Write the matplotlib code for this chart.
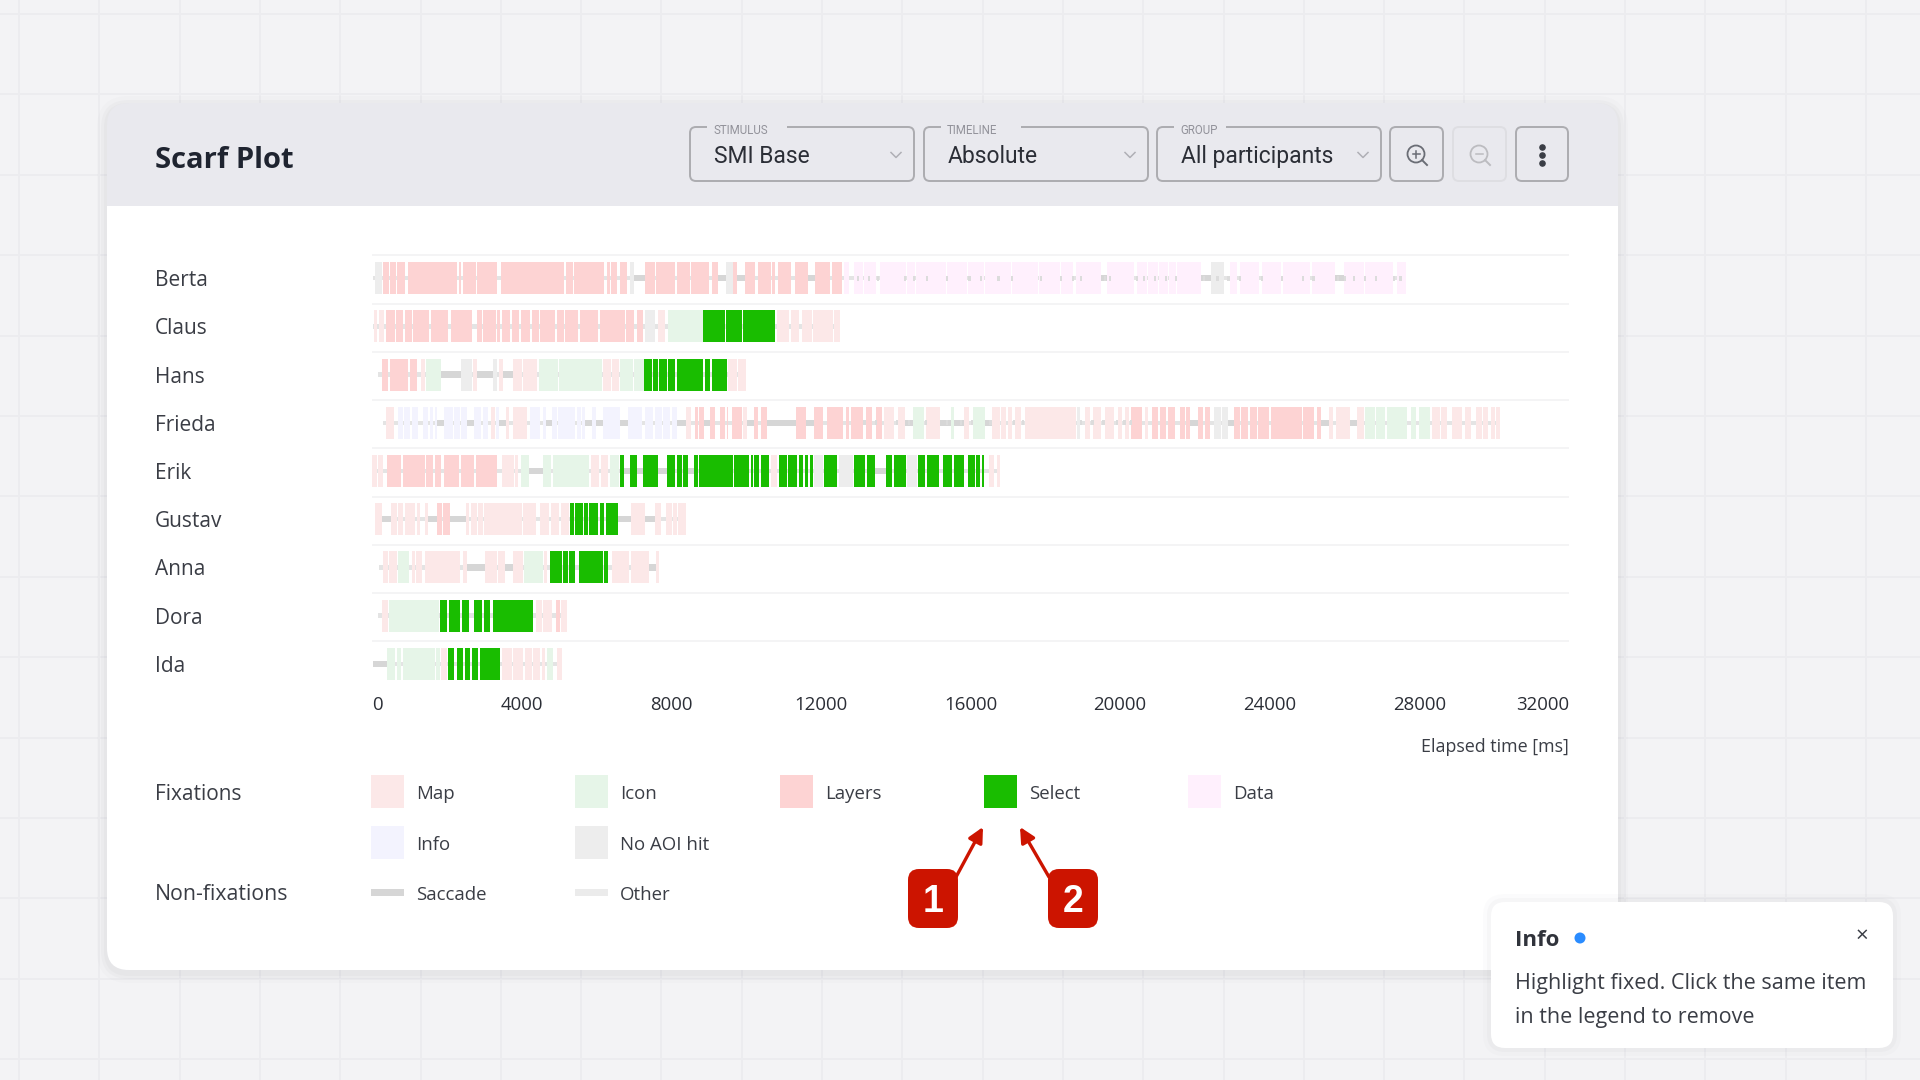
import matplotlib
matplotlib.use("Agg")
import matplotlib.pyplot as plt
from matplotlib.patches import FancyBboxPatch, Rectangle, Circle

plt.rcParams["font.family"] = ["Open Sans", "DejaVu Sans"]

participants = ["Berta", "Claus", "Hans", "Frieda", "Erik", "Gustav", "Anna", "Dora", "Ida"]
row_start = [30, 20, 150, 300, 0, 80, 200, 150, 30]
x_ticks = [0, 4000, 8000, 12000, 16000, 20000, 24000, 28000, 32000]

aoi_colors = {"Map": "#fce8e8", "Icon": "#e6f5e8", "Layers": "#fdd3d3", "Select": "#19bd00",
              "Data": "#fff0fd", "Info": "#f3f3fe", "No AOI hit": "#ededed"}
saccade_color = "#d6d6d6"
other_color = "#ebebeb"

# fixation cells per participant in ms: (aoi, [(start, end), ...])
berta = [
    ("No AOI hit", [(80, 258), (6899, 7006), (9466, 9644), (22429, 22787)]),
    ("Layers", [(285, 463), (481, 642), (677, 873), (954, 2282), (2317, 2380), (2424, 2781), (2816, 3351),
                (3458, 5134), (5187, 5366), (5401, 6212), (6275, 6364), (6382, 6542), (6631, 6810),
                (7300, 7567), (7594, 8102), (8147, 8503), (8521, 9020), (9083, 9261), (9662, 9769),
                (9974, 10241), (10330, 10660), (10687, 10776), (10865, 11195), (11311, 11667),
                (11845, 12247), (12291, 12559)]),
    ("Data", [(12621, 12764), (12877, 13139), (13163, 13474), (13569, 14273), (14309, 14512), (14548, 15348),
              (15384, 15909), (15945, 16363), (16387, 17079), (17103, 17796), (17820, 18393), (18417, 18751),
              (18811, 19491), (19647, 20363), (20446, 20721), (20757, 21020), (21043, 21282), (21318, 21497),
              (21521, 22154), (22930, 23121), (23193, 23706), (23790, 24303), (24363, 25079), (25139, 25736),
              (25975, 26512), (26536, 26990), (27013, 27288), (27408, 27646)]),
]
claus = [
    ("Map", [(53, 143), (196, 321), (7656, 7834), (10820, 11159), (11195, 11426), (11489, 11756),
             (11783, 12318), (12353, 12514)]),
    ("Layers", [(374, 606), (642, 838), (882, 1061), (1105, 1533), (1569, 2041), (2103, 2264), (2282, 2674),
                (2816, 2941), (2977, 3316), (3351, 3423), (3467, 3690), (3734, 3940), (3975, 4225),
                (4269, 4457), (4492, 4893), (4938, 5134), (5161, 5517), (5562, 6052), (6096, 6765),
                (6792, 7006), (7077, 7255)]),
    ("No AOI hit", [(7300, 7567)]),
    ("Icon", [(7923, 8842)]),
    ("Select", [(8842, 9439), (9474, 9902), (9929, 10776)]),
]
hans = [
    ("Layers", [(258, 436), (481, 971), (1016, 1212)]),
    ("Map", [(1301, 1417), (2692, 2799), (3405, 3512), (3761, 4002), (4047, 4403), (6168, 6382), (6408, 6613),
             (9528, 9751), (9795, 9991)]),
    ("Icon", [(1444, 1845), (4474, 4982), (5009, 6141), (6631, 6988), (7006, 7273)]),
    ("No AOI hit", [(2371, 2665), (3244, 3333)]),
    ("Select", [(7282, 7478), (7522, 7638), (7674, 7879), (7915, 8102), (8147, 8860), (8904, 9038), (9083, 9483)]),
]
frieda = [
    ("Map", [(374, 597), (3173, 3289), (3583, 3672), (3761, 4136), (8387, 8521), (9929, 10036), (13677, 13951),
             (14070, 14238), (14811, 15193), (15838, 15957), (16578, 16781), (16817, 16960), (16996, 17103),
             (17199, 17342), (17461, 18811), (19061, 19205), (19288, 19491), (19587, 19849), (19945, 20041),
             (20124, 20243), (20662, 20757), (25581, 25700), (25772, 26154), (26333, 26514), (28327, 28542),
             (28566, 28733), (28864, 29139), (29223, 29377), (29520, 29676), (29700, 29831), (29927, 30035),
             (30058, 30154)]),
    ("Info", [(704, 820), (855, 1016), (1061, 1239), (1355, 1506), (1551, 1640), (1685, 1747), (1925, 2157),
              (2193, 2353), (2380, 2549), (2727, 2906), (2959, 3111), (3316, 3405), (4225, 4492), (4563, 4652),
              (4804, 4938), (4982, 5428), (5473, 5580), (5606, 5695), (5891, 5990), (6168, 6631), (6854, 7211),
              (7300, 7523), (7567, 7745), (7790, 7968), (8013, 8164)]),
    ("Layers", [(8636, 8726), (8752, 8877), (9038, 9172), (9305, 9439), (9483, 9528), (9617, 9884), (10210, 10330),
                (10401, 10553), (11337, 11604), (11819, 12068), (12175, 12318), (12336, 12585), (12675, 12764),
                (12805, 13139), (13211, 13378), (13474, 13641), (20303, 20578), (20841, 21020), (21055, 21234),
                (21282, 21473), (21593, 21736), (21760, 21855), (22094, 22214), (22273, 22393), (23048, 23205),
                (23240, 23408), (23468, 23647), (23682, 23981), (24040, 24864), (24888, 25175), (25259, 25378)]),
    ("Icon", [(14453, 14751), (15468, 15551), (16076, 16399), (26548, 26810), (26846, 27073), (27133, 27682),
              (27778, 27921), (27995, 28279)]),
    ("No AOI hit", [(18835, 18930), (22512, 22692), (22715, 22894)]),
]
erik = [
    ("Map", [(0, 125), (169, 303), (3467, 3797), (3824, 3913), (5847, 6079), (6114, 6319), (10660, 10838),
             (16482, 16626), (16721, 16793)]),
    ("Layers", [(392, 767), (838, 1417), (1444, 1622), (1685, 1845), (1925, 2335), (2380, 2736), (2781, 3351)]),
    ("Icon", [(3975, 4198), (4581, 4777), (4831, 5811), (6364, 6613)]),
    ("No AOI hit", [(11819, 12050), (12496, 12870), (14309, 14572)]),
    ("Select", [(6631, 6738), (6899, 7077), (7255, 7638), (7879, 8102), (8147, 8280), (8325, 8441), (8619, 8726),
                (8752, 9662), (9688, 10089), (10125, 10178), (10223, 10357), (10392, 10624), (10891, 11088),
                (11133, 11374), (11427, 11534), (11578, 11667), (11712, 11783), (12086, 12425), (12877, 13187),
                (13223, 13438), (13736, 13891), (13951, 14273), (14596, 14787), (14835, 15169), (15265, 15503),
                (15551, 15838), (15945, 16124), (16160, 16244), (16303, 16363)]),
]
gustav = [
    ("Map", [(80, 258), (499, 677), (704, 838), (882, 1150), (1194, 1283), (1417, 1506), (2505, 2603), (2638, 2799),
             (2843, 2959), (3004, 4020), (4047, 4376), (4492, 4742), (4777, 5009), (5045, 5277), (6916, 7300),
             (7567, 7728), (7861, 8013), (8039, 8147), (8191, 8387)]),
    ("Layers", [(1747, 1863), (1907, 2086)]),
    ("Select", [(5294, 5401), (5428, 5633), (5669, 5767), (5811, 6052), (6096, 6203), (6248, 6587)]),
]
anna = [
    ("Map", [(303, 437), (463, 660), (1061, 1150), (1177, 1337), (1417, 2353), (2442, 2549), (3021, 3200),
             (3218, 3351), (3378, 3556), (3761, 4029), (4608, 4688), (6426, 6881), (6916, 7415), (7594, 7683)]),
    ("Icon", [(704, 998), (4064, 4563)]),
    ("Select", [(4760, 5072), (5117, 5250), (5277, 5428), (5535, 6168), (6203, 6319)]),
]
dora = [
    ("Map", [(258, 437), (4376, 4536), (4563, 4804), (5054, 5223)]),
    ("Icon", [(463, 1800)]),
    ("Select", [(1818, 2014), (2068, 2353), (2415, 2603), (2736, 2932), (2995, 3155), (3227, 4314)]),
    ("Layers", [(4911, 5027)]),
]
ida = [
    ("Icon", [(392, 615), (660, 767), (820, 1685), (1711, 1818), (4670, 4831)]),
    ("Map", [(1836, 2014), (3467, 3734), (3761, 4047), (4082, 4269), (4296, 4492), (4537, 4626), (4938, 5072)]),
    ("Select", [(2032, 2193), (2264, 2424), (2496, 2620), (2665, 2843), (2888, 3423)]),
]
rows = [berta, claus, hans, frieda, erik, gustav, anna, dora, ida]

# very short saccades that show as grey dots over the pale cells (ms)
berta_dots = [12960, 13259, 13497, 14214, 14453, 14811, 15348, 15945, 16244, 16721, 17079, 17855, 18393, 18715,
              18930, 19563, 19706, 20423, 20602, 20900, 21199, 21473, 22214, 22572, 22870, 23169, 23766, 24303,
              24864, 25139, 25795, 25975, 26214, 26512, 26811, 27288, 27468]
frieda_dots = [13139, 13438, 14011, 14333, 14787, 15348, 15706, 16005, 16506, 17139, 17378, 18930, 19229, 19527,
               19886, 20088, 20255]
dots = {0: berta_dots, 3: frieda_dots}

legend_row1 = ["Map", "Icon", "Layers", "Select", "Data"]
legend_row2 = ["Info", "No AOI hit"]
dropdown_labels = ["STIMULUS", "TIMELINE", "GROUP"]
dropdown_values = ["SMI Base", "Absolute", "All participants"]
toast_lines = ["Highlight fixed. Click the same item", "in the legend to remove"]

text_color = "#3a3d45"

fig = plt.figure(figsize=(19.2, 10.8), dpi=100, facecolor="#f3f3f5")

# page and card live on a full-figure axes in pixel units
bg = fig.add_axes([0, 0, 1, 1], zorder=0)
bg.set_xlim(0, 1920)
bg.set_ylim(1080, 0)
bg.axis("off")


def rbox(x0, y0, x1, y1, r, **kw):
    kw.setdefault("linewidth", 0)
    p = FancyBboxPatch((x0, y0), x1 - x0, y1 - y0, boxstyle=f"round,pad=0,rounding_size={r}", **kw)
    bg.add_patch(p)
    return p


for k in range(24):
    gx = 19 + 80.3 * k
    bg.plot([gx, gx], [0, 1080], color="#ececef", lw=1.3, zorder=1)
for k in range(14):
    gy = 14 + 80.4 * k
    bg.plot([0, 1920], [gy, gy], color="#ececef", lw=1.3, zorder=1)

for grow, alpha in [(10, 0.03), (6, 0.05), (3, 0.06)]:
    rbox(107 - grow, 103 - grow + 3, 1618 + grow, 970 + grow + 3, 22 + grow, facecolor="#9a9aa0", alpha=alpha, zorder=2)
rbox(107, 103, 1618, 970, 22, facecolor="#e9e9ee", zorder=3)
rbox(107, 600, 1618, 970, 22, facecolor="white", zorder=3)
bg.add_patch(Rectangle((107, 206), 1511, 500, facecolor="white", linewidth=0, zorder=3))

bg.text(155, 161, "Scarf Plot", fontsize=21, fontweight="bold", color="#1f2430", va="center", zorder=5)

for x0, label, value in zip([690, 924, 1157], dropdown_labels, dropdown_values):
    rbox(x0, 127, x0 + 224, 181, 6, facecolor="#e9e9ee", edgecolor="#acacb0", linewidth=1.4, zorder=4)
    bg.add_patch(Rectangle((x0 + 17, 122), len(label) * 9.2 + 6, 10, facecolor="#e9e9ee", linewidth=0, zorder=4))
    bg.text(x0 + 23, 131, label, fontsize=8.3, family="Roboto", color="#92929a", va="center", zorder=5)
    bg.text(x0 + 24, 156.5, value, fontsize=16.5, family="Roboto", color="#2b2e36", va="center", zorder=5)
    bg.plot([x0 + 201, x0 + 206, x0 + 211], [152.5, 157.5, 152.5], color="#b0b0b6", lw=1.1, zorder=5)

rbox(1390, 127, 1443, 181, 6, facecolor="#e9e9ee", edgecolor="#acacb0", linewidth=1.4, zorder=4)
rbox(1453, 127, 1506, 181, 6, facecolor="#e9e9ee", edgecolor="#dedee2", linewidth=1.4, zorder=4)
rbox(1516, 127, 1568, 181, 6, facecolor="#e9e9ee", edgecolor="#acacb0", linewidth=1.4, zorder=4)
for cx, col, sym in [(1416, "#6a6d75", "plus"), (1479, "#bcbcc0", "minus")]:
    bg.add_patch(Circle((cx, 154), 8.5, facecolor="none", edgecolor=col, linewidth=1.3, zorder=5))
    bg.plot([cx + 6, cx + 11], [160, 165], color=col, lw=1.4, zorder=5)
    bg.plot([cx - 3.5, cx + 3.5], [154, 154], color=col, lw=1.1, zorder=5)
    if sym == "plus":
        bg.plot([cx, cx], [150.5, 157.5], color=col, lw=1.1, zorder=5)
bg.scatter([1542, 1542, 1542], [147, 155, 163], s=14, color="#3a3d45", zorder=5)

# legend
bg.text(155, 795, "Fixations", fontsize=15, color=text_color, va="center", zorder=5)
bg.text(155, 894, "Non-fixations", fontsize=15.3, color=text_color, va="center", zorder=5)
for x0, name in zip([371, 575, 780, 984, 1188], legend_row1):
    bg.add_patch(Rectangle((x0, 775), 33, 33, facecolor=aoi_colors[name], linewidth=0, zorder=5))
    bg.text(x0 + 45, 794, name, fontsize=13.4, color=text_color, va="center", zorder=5)
for x0, name in zip([371, 575], legend_row2):
    bg.add_patch(Rectangle((x0, 826), 33, 33, facecolor=aoi_colors[name], linewidth=0, zorder=5))
    bg.text(x0 + 45, 845, name, fontsize=13.4, color=text_color, va="center", zorder=5)
for x0, name, col in zip([371, 575], ["Saccade", "Other"], [saccade_color, other_color]):
    bg.add_patch(Rectangle((x0, 889), 33, 7, facecolor=col, linewidth=0, zorder=5))
    bg.text(x0 + 45, 895, name, fontsize=13.4, color=text_color, va="center", zorder=5)

# numbered callouts
red = "#cc1400"
for bx0, num, start, end in [(908, "1", (956, 877), (983, 827)), (1048, "2", (1049, 877), (1020, 827))]:
    bg.annotate("", xy=end, xytext=start, zorder=6,
                arrowprops=dict(arrowstyle="-|>,head_length=0.9,head_width=0.45", color=red, lw=2.4,
                                shrinkA=0, shrinkB=0))
    rbox(bx0, 869, bx0 + 50, 928, 11, facecolor=red, zorder=7)
    bg.text(bx0 + 25, 902, num, fontsize=27, fontweight="bold", family="Liberation Sans", color="white",
            ha="center", va="center", zorder=8)

# toast
for grow, alpha in [(8, 0.03), (4, 0.05)]:
    rbox(1491 - grow, 902 - grow, 1893 + grow, 1048 + grow, 14 + grow, facecolor="#9a9aa0", alpha=alpha, zorder=9)
rbox(1491, 902, 1893, 1048, 14, facecolor="white", zorder=9)
bg.text(1515, 940, "Info", fontsize=16, fontweight="bold", color="#30333b", va="center", zorder=10)
bg.add_patch(Circle((1580, 938), 5.5, facecolor="#2a8cff", linewidth=0, zorder=10))
bg.text(1862, 936, "×", fontsize=16, color="#3a3d45", ha="center", va="center", zorder=10)
for ty, line in zip([984, 1018], toast_lines):
    bg.text(1515, ty, line, fontsize=15.5, color=text_color, va="center", zorder=10)

# the scarf plot itself
ax = fig.add_axes([372 / 1920, 1 - 688 / 1080, 1197 / 1920, 434 / 1080], zorder=1)
ax.patch.set_alpha(0)
ax.set_xlim(0, 32000)
ax.set_ylim(8.5, -0.5)
for s in ax.spines.values():
    s.set_visible(False)

band = 0.663
for i, row in enumerate(rows):
    cells_sorted = sorted(c for _, cells in row for c in cells)
    # whatever lies between two fixations is a saccade; the short ones read paler
    prev_end = row_start[i]
    for s, e in cells_sorted:
        gap = s - prev_end
        if gap > 0:
            long_gap = gap > 150
            ax.barh(i, gap, left=prev_end, height=0.13 if long_gap else 0.09,
                    color=saccade_color if long_gap else "#e4e4e4", linewidth=0, zorder=1)
        prev_end = e
    for aoi, cells in row:
        ax.broken_barh([(s, e - s) for s, e in cells], (i - band / 2, band), facecolors=aoi_colors[aoi],
                       linewidth=0, zorder=2)
    if i in dots:
        ax.broken_barh([(d, 60) for d in dots[i]], (i - 0.05, 0.1), facecolors="#dcdcdc", linewidth=0, zorder=3)
for k in range(10):
    ax.plot([0, 32000], [k - 0.47, k - 0.47], color="#f4f4f5", lw=1.4, zorder=0)

ax.set_yticks(range(len(participants)))
ax.set_yticklabels(participants, fontsize=15, color=text_color, ha="left")
ax.tick_params(axis="y", length=0, pad=217 * 0.72)
ax.set_xticks(x_ticks)
ax.set_xticklabels(x_ticks, fontsize=13.4, color="#2b2e36")
ax.tick_params(axis="x", length=0, pad=6)
ax.get_xticklabels()[0].set_ha("left")
ax.get_xticklabels()[-1].set_ha("right")
ax.set_xlabel("Elapsed time [ms]", loc="right", fontsize=12.9, color=text_color, labelpad=17)

fig.savefig("out.png", dpi=100, facecolor=fig.get_facecolor())
